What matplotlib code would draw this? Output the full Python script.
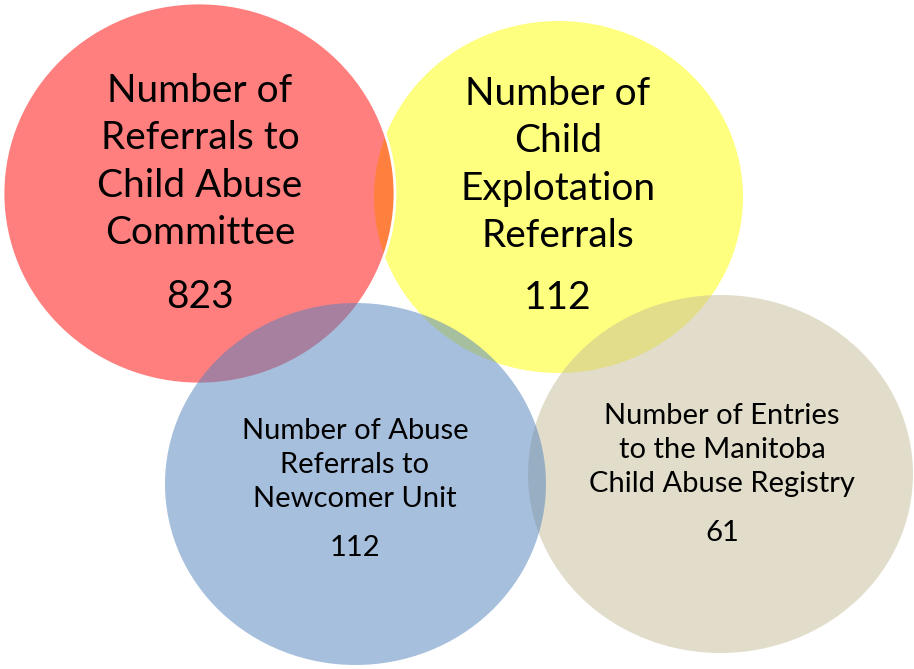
import matplotlib
matplotlib.use("Agg")
import matplotlib.pyplot as plt
from matplotlib.patches import Ellipse

# Data
labels = ["Number of\nReferrals to\nChild Abuse\nCommittee",
          "Number of\nChild\nExplotation\nReferrals",
          "Number of Entries\nto the Manitoba\nChild Abuse Registry",
          "Number of Abuse\nReferrals to\nNewcomer Unit"]
values = [823, 112, 61, 112]

# Layout (pixel coordinates)
centers = [(199, 193.5), (558.5, 197), (720.5, 474), (355.5, 484)]
sizes = [(392, 381), (369, 352), (385, 358), (381, 362)]
colors = ["#FF0000", "#FFFF00", "#C4BD97", "#4F81BD"]
edges = ["white", "none", "none", "none"]
label_y = [162, 165, 450, 465]
value_y = [297, 298, 533, 548]
label_x = [200, 558, 722, 355]
fsizes = [28, 28, 21, 21]
zorders = [2, 1, 3, 4]

plt.rcParams['font.family'] = ['Lato', 'DejaVu Sans']

fig = plt.figure(figsize=(9.14, 6.69), dpi=100)
ax = fig.add_axes([0, 0, 1, 1])
ax.set_xlim(0, 914)
ax.set_ylim(669, 0)
ax.axis('off')

for i in range(4):
    e = Ellipse(centers[i], sizes[i][0], sizes[i][1], facecolor=colors[i],
                alpha=0.5, edgecolor='none', zorder=zorders[i])
    ax.add_patch(e)
    if edges[i] != "none":
        ax.add_patch(Ellipse(centers[i], sizes[i][0], sizes[i][1], facecolor='none',
                             edgecolor=edges[i], lw=2, zorder=zorders[i] + 0.1))

for i in range(4):
    ax.text(label_x[i], label_y[i], labels[i], ha='center', va='center',
            fontsize=fsizes[i], linespacing=1.4, zorder=10, color='black')
    ax.text(label_x[i], value_y[i], str(values[i]), ha='center', va='center',
            fontsize=fsizes[i], zorder=10, color='black')

fig.savefig("out.png", dpi=100)
